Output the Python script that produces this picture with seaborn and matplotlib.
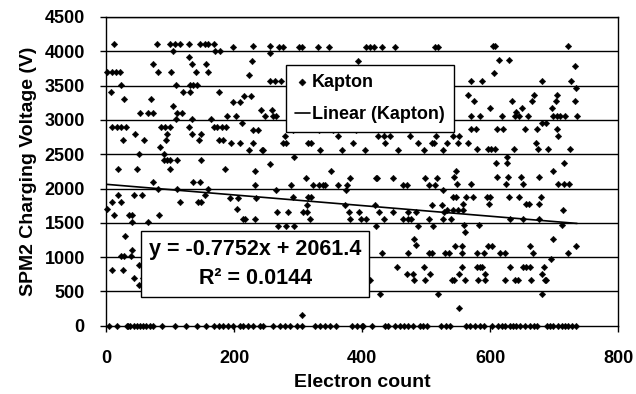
import numpy as np
import pandas as pd
import matplotlib
matplotlib.use("Agg")
import matplotlib.pyplot as plt
import seaborn as sns

# ---------------- data ----------------
kapton_x = [
    12, 79, 100, 108, 116, 129, 147, 155, 160, 168, 199, 229, 256,
    105, 170, 178, 256, 130, 228, 73, 134, 156,
    2, 9, 16, 22, 81, 101, 141, 160, 223, 256,
    23, 109, 132, 136, 142, 7, 121, 131, 177, 215, 226, 28, 71, 199, 209, 104,
    242, 259, 53, 66, 73, 111, 118, 189, 203, 249, 261, 109, 135, 164, 212,
    10, 17, 23, 31, 86, 92, 100, 129, 168, 174, 181, 188, 230, 238,
    45, 95, 134, 149, 26, 59, 94, 146, 176, 183, 195, 209, 229, 85,
    223, 243, 246, 51, 90, 90, 95, 100, 111, 148, 257, 19, 48, 100, 186, 233,
    271, 276, 301, 306, 332, 349, 407, 412, 418, 431, 452, 514, 519,
    394, 264, 274, 265,
    292, 333, 354, 391, 434, 475, 280, 363, 425, 434, 443, 475, 516,
    277, 282, 316, 321, 386, 436, 488, 509, 512, 334, 368, 405, 457, 497, 527,
    294, 351,
    605, 608, 722, 614, 630, 733, 607, 570, 588, 682, 727, 734,
    566, 669, 704, 575, 635, 665, 703, 733, 600, 650, 697, 641,
    570, 585, 618, 639, 646, 660, 699, 704, 709, 717, 736, 681, 688,
    570, 578, 611, 621, 655, 673, 704, 542, 552, 707, 533, 550, 565, 672,
    579, 597, 602, 608, 637, 675, 690, 725, 627, 609, 626, 716, 547, 699,
    74, 136, 147, 233, 82, 111, 160, 19, 43, 57, 155, 194, 207, 234,
    9, 23, 115, 144, 149, 2, 205, 13, 36, 40, 83, 214, 217, 233, 41, 65,
    30, 41, 23, 28, 39, 52, 9, 26, 43, 58, 51, 56,
    313, 381, 422, 424, 449, 498, 517,
    289, 324, 333, 339, 342, 363, 377, 464, 470, 504, 514, 266, 375, 527,
    292, 316, 321, 314, 373, 420, 509, 525,
    267, 285, 308, 314, 380, 396, 427, 448, 472, 485, 528,
    319, 382, 399, 407, 434, 464, 472, 477, 504, 527,
    269, 282, 293, 422, 488, 511, 481, 484, 431, 472, 504, 509,
    454, 497, 471, 480, 506, 412, 481, 498, 428, 518, 307,
    543, 611, 628, 649, 677, 548, 571, 625, 652, 707, 715, 723,
    542, 547, 563, 573, 595, 600, 629, 646, 679, 558, 599, 657, 661, 677,
    533, 542, 550, 558, 714, 539, 632, 652, 676, 559, 583, 713, 561, 698,
    545, 556, 597, 603, 663, 734,
    530, 536, 556, 579, 591, 615, 623, 667, 722, 696,
    557, 580, 584, 588, 632, 652, 657, 663, 684, 551, 592, 682,
    540, 544, 561, 582, 592, 623, 639, 644, 664, 686, 688, 682, 552,
]
kapton_v = [
    4100, 4100, 4100, 4100, 4100, 4100, 4100, 4100, 4100, 4100, 4060, 4070, 4070,
    4000, 4000, 4000, 3970, 3910, 3860, 3810, 3810, 3810,
    3700, 3700, 3700, 3700, 3700, 3700, 3700, 3700, 3650, 3560,
    3510, 3510, 3510, 3510, 3510, 3410, 3410, 3410, 3410, 3350, 3350, 3300, 3300, 3260, 3260, 3200,
    3150, 3150, 3100, 3100, 3100, 3100, 3100, 3060, 3060, 3060, 3060, 3010, 3010, 3010, 2950,
    2900, 2900, 2900, 2900, 2900, 2900, 2900, 2900, 2900, 2900, 2900, 2900, 2850, 2850,
    2800, 2800, 2800, 2800, 2710, 2710, 2710, 2710, 2710, 2710, 2660, 2660, 2660, 2600,
    2560, 2560, 2560, 2500, 2500, 2410, 2410, 2410, 2410, 2410, 2350, 2290, 2290, 2290, 2290, 2250,
    4060, 4060, 4060, 4060, 4060, 4060, 4060, 4060, 4060, 4060, 4060, 4060, 4060,
    3860, 3570, 3570, 3060,
    2850, 2850, 2850, 2850, 2850, 2850, 2770, 2770, 2770, 2770, 2770, 2770, 2770,
    2660, 2660, 2660, 2660, 2660, 2660, 2660, 2660, 2660, 2560, 2560, 2560, 2560, 2560, 2560,
    2460, 2260,
    4070, 4070, 4070, 3870, 3870, 3780, 3680, 3570, 3570, 3570, 3570, 3460,
    3360, 3360, 3360, 3280, 3280, 3280, 3280, 3280, 3170, 3170, 3170, 3120,
    3060, 3060, 3060, 3060, 3060, 3060, 3060, 3060, 3060, 3060, 3060, 2960, 2960,
    2860, 2860, 2860, 2860, 2860, 2860, 2860, 2770, 2770, 2770, 2670, 2670, 2670, 2670,
    2570, 2570, 2570, 2570, 2570, 2570, 2570, 2570, 2460, 2370, 2370, 2370, 2260, 2260,
    2100, 2100, 2100, 2050, 2000, 2000, 2000, 1900, 1900, 1900, 1900, 1860, 1860, 1860,
    1810, 1810, 1810, 1810, 1810, 1700, 1700, 1610, 1610, 1610, 1610, 1550, 1550, 1550, 1510, 1510,
    1310, 1100, 1010, 1010, 1010, 890, 810, 810, 700, 700, 590, 590,
    2160, 2160, 2160, 2160, 2160, 2160, 2160,
    2050, 2050, 2050, 2050, 2050, 2050, 2050, 2050, 2050, 2050, 2050, 1980, 1980, 1980,
    1870, 1870, 1870, 1760, 1760, 1760, 1760, 1760,
    1660, 1660, 1660, 1660, 1660, 1660, 1660, 1660, 1660, 1660, 1660,
    1560, 1560, 1560, 1560, 1560, 1560, 1560, 1560, 1560, 1560,
    1450, 1450, 1450, 1450, 1450, 1450, 1260, 1180, 1060, 1060, 1060, 1060,
    860, 860, 760, 760, 760, 670, 670, 670, 460, 460, 160,
    2170, 2170, 2170, 2170, 2170, 2070, 2070, 2070, 2070, 2070, 2070, 2070,
    1870, 1870, 1870, 1870, 1870, 1870, 1870, 1870, 1870, 1770, 1770, 1770, 1770, 1770,
    1680, 1680, 1680, 1680, 1680, 1560, 1560, 1560, 1560, 1470, 1470, 1470, 1370, 1270,
    1160, 1160, 1160, 1160, 1160, 1160,
    1060, 1060, 1060, 1060, 1060, 1060, 1060, 1060, 1060, 970,
    860, 860, 860, 860, 860, 860, 860, 860, 860, 760, 760, 760,
    670, 670, 670, 670, 670, 670, 670, 670, 670, 670, 670, 460, 260,
]
# points that sit on the 0 V line
zero_x = [
    4, 17, 32, 35, 38, 43, 48, 53, 58, 63, 69, 74, 87, 108, 125, 142, 157, 168,
    176, 183, 191, 199, 209, 214, 222, 229, 241, 246, 261, 272, 280, 287, 298,
    306, 327, 334, 342, 350, 360, 384, 392, 400, 402, 415, 436, 441, 451, 459,
    465, 472, 480, 490, 496, 501, 524, 532, 537, 563, 569, 577, 584, 590, 603,
    613, 618, 623, 631, 636, 641, 647, 655, 662, 668, 673, 689, 694, 699, 707,
    712, 717, 722, 728, 735,
]
zero_v = [0] * len(zero_x)

# linear trend shown in the chart
slope = -0.7752
intercept = 2061.4
r_squared = 0.0144

x_ticks = [0, 200, 400, 600, 800]
y_ticks = [0, 500, 1000, 1500, 2000, 2500, 3000, 3500, 4000, 4500]

# ---------------- plotting ----------------
sns.set_theme(style="white")
plt.rcParams["font.family"] = ["Liberation Sans", "DejaVu Sans"]
plt.rcParams["font.weight"] = "bold"
for key in ["text.color", "axes.labelcolor", "xtick.color", "ytick.color",
            "axes.edgecolor"]:
    plt.rcParams[key] = "black"

df = pd.DataFrame({
    "Electron count": kapton_x + zero_x,
    "Voltage": kapton_v + zero_v,
})
fit_x = np.array([0, max(df["Electron count"])])
fit_df = pd.DataFrame({"Electron count": fit_x, "Voltage": slope * fit_x + intercept})

fig, ax = plt.subplots(figsize=(6.36, 3.94), dpi=100)
fig.subplots_adjust(left=0.1667, right=0.9717, top=0.9569, bottom=0.1733)

for yv in y_ticks[1:]:
    ax.axhline(yv, color="black", lw=1.0, zorder=1)

sns.scatterplot(data=df, x="Electron count", y="Voltage", marker="D", s=11,
                color="black", edgecolor="black", linewidth=0.3,
                label="Kapton", clip_on=False, zorder=3, ax=ax)
sns.lineplot(data=fit_df, x="Electron count", y="Voltage", color="black",
             lw=1.2, label="Linear (Kapton)", zorder=4, ax=ax)

ax.set_xlim(0, 800)
ax.set_ylim(0, 4500)
ax.set_xticks(x_ticks)
ax.set_yticks(y_ticks)
ax.tick_params(axis="both", direction="out", length=4.3, width=1, color="black",
               labelsize=13, bottom=True, left=True)
ax.tick_params(axis="y", pad=11)
ax.tick_params(axis="x", pad=13)
for lab in ax.get_xticklabels() + ax.get_yticklabels():
    lab.set_fontweight("bold")
for sp in ax.spines.values():
    sp.set_color("black")
    sp.set_linewidth(1.0)

ax.set_xlabel("Electron count", fontsize=14, fontweight="bold", labelpad=5)
ax.set_ylabel("SPM2 Charging Voltage (V)", fontsize=14, fontweight="bold", labelpad=5)

leg = ax.legend(loc="upper left", bbox_to_anchor=(0.3516, 0.8445), borderaxespad=0,
                frameon=True, fancybox=False, edgecolor="black", framealpha=1,
                prop={"weight": "bold", "size": 13}, handlelength=0.8,
                handletextpad=0.15, labelspacing=0.85, borderpad=0.5, markerscale=1.1)
leg.get_frame().set_linewidth(1.0)
leg.set_zorder(6)

ax.text(233, 900, f"y = {slope}x + {intercept}\nR² = {r_squared}",
        ha="center", va="center", multialignment="center",
        fontsize=15.5, fontweight="bold", linespacing=1.5, zorder=6,
        bbox=dict(boxstyle="square,pad=0.35", fc="white", ec="black", lw=1.0))

fig.savefig("out.png", dpi=100)
